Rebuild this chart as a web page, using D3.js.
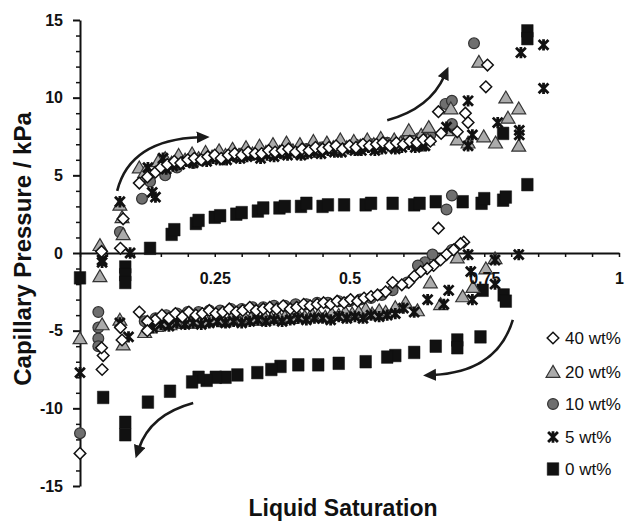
<!DOCTYPE html>
<html><head><meta charset="utf-8">
<script src="https://cdn.jsdelivr.net/npm/d3@7"></script>
<style>
body{margin:0;background:#fff;}
svg{display:block;font-family:"Liberation Sans",Arial,sans-serif;}
</style></head>
<body>
<svg id="chart" width="635" height="521"></svg>
<script>
// ---- data (liquid saturation, capillary pressure kPa) ----
const seriesNames = ["40 wt%","20 wt%","10 wt%","5 wt%","0 wt%"];
const yTickLabels = [15,10,5,0,-5,-10,-15];
const xTickLabels = [0.25,0.5,0.75,1];

// 40 wt% (diamonds) - drainage (d) and imbibition (i)
const s40_dx = [0.04,0.075,0.08,0.11,0.125,0.14,
  0.150,0.162,0.175,0.187,0.200,0.212,0.225,0.237,0.250,0.262,0.275,0.287,0.300,0.312,0.325,0.337,0.350,0.362,0.375,0.387,0.400,0.412,0.425,0.437,0.450,0.462,0.475,0.487,0.500,0.512,0.525,0.537,0.550,0.562,0.575,0.587,0.600,0.612,0.625,0.637,0.650,
  0.67,0.70,0.665,0.715,0.72,0.753,0.756];
const s40_dy = [0.1,0.3,2.2,4.5,4.9,5.2,
  5.5,5.7,5.9,5.8,6.0,6.1,6.0,6.2,6.3,6.1,6.3,6.4,6.3,6.5,6.4,6.4,6.6,6.5,6.6,6.7,6.5,6.7,6.6,6.8,6.7,6.8,6.9,6.7,6.9,6.8,7.0,6.9,7.0,7.1,6.9,7.1,7.0,7.2,7.1,7.3,7.2,
  7.7,7.8,9.1,9.0,8.4,10.7,12.1];
const s40_ix = [0.665,0.712,0.706,0.693,0.68,0.669,0.656,0.644,0.632,0.62,0.61,0.597,0.58,0.567,
  0.14,0.152,0.165,0.177,0.19,0.202,0.215,0.227,0.24,0.252,0.265,0.277,0.29,0.302,0.315,0.327,0.34,0.352,0.365,0.377,0.39,0.402,0.415,0.427,0.44,0.452,0.465,0.477,0.49,0.502,0.515,0.527,0.54,0.552,
  0.125,0.11,0.125,0.078,0.075,0.043,0.041,0.04,0.0];
const s40_iy = [1.6,0.7,0.6,0.2,-0.1,-0.45,-0.8,-1.0,-1.2,-1.5,-1.9,-2.05,-1.9,-2.5,
  -4.3,-4.0,-4.2,-3.9,-4.1,-3.8,-4.0,-3.9,-3.7,-3.9,-3.8,-3.6,-3.8,-3.7,-3.5,-3.7,-3.6,-3.5,-3.6,-3.4,-3.6,-3.5,-3.3,-3.4,-3.3,-3.2,-3.3,-3.1,-3.2,-3.0,-3.1,-2.9,-2.8,-2.7,
  -4.4,-3.8,-5.0,-5.6,-4.8,-6.6,-7.5,-6.1,-12.9];

// 20 wt% (triangles)
const s20_dx = [0.037,0.074,0.078,0.08,0.11,0.12,
  0.145,0.158,0.17,0.183,0.195,0.208,0.22,0.233,0.245,0.258,0.27,0.283,0.295,0.308,0.32,0.333,0.345,0.358,0.37,0.383,0.395,0.408,0.42,0.433,0.445,0.458,0.47,0.483,0.495,0.508,0.52,0.533,0.545,0.558,0.57,0.583,0.595,0.608,0.62,0.633,0.645,
  0.61,0.647,0.68,0.70,0.72,0.749,0.771,0.688,0.74,0.79,0.794,0.814,0.814];
const s20_dy = [0.5,3.1,2.3,1.2,5.5,5.2,
  5.9,6.1,5.8,6.3,6.0,6.4,6.1,6.5,6.2,6.6,6.3,6.7,6.3,6.8,6.4,6.9,6.5,7.0,6.5,7.1,6.6,7.0,6.6,7.2,6.7,7.1,6.8,7.3,6.8,7.2,6.9,7.3,7.0,7.4,7.0,7.3,7.1,7.5,7.2,7.6,7.3,
  7.9,8.1,7.9,7.3,7.1,7.5,7.1,9.3,12.3,10.0,8.7,9.3,6.9];
const s20_ix = [0.70,0.77,0.753,0.729,0.71,0.669,0.65,0.626,0.604,0.585,0.567,
  0.555,0.542,0.53,0.517,0.505,0.492,0.48,0.467,0.455,0.442,0.43,0.417,0.405,0.392,0.38,0.367,0.355,0.342,0.33,0.317,0.305,0.292,0.28,0.267,0.255,0.242,0.23,0.217,0.205,0.192,0.18,0.167,0.155,0.142,0.13,
  0.12,0.074,0.08,0.041,0.037,0.0];
const s20_iy = [-0.3,-0.35,-1.0,-2.2,-2.8,-3.3,-1.9,-3.7,-3.2,-3.5,-3.8,
  -3.7,-3.9,-3.6,-3.8,-3.9,-3.8,-4.0,-3.9,-4.1,-4.0,-3.9,-4.1,-4.0,-4.2,-4.1,-4.0,-4.2,-4.1,-4.3,-4.2,-4.1,-4.3,-4.2,-4.4,-4.3,-4.2,-4.4,-4.3,-4.5,-4.4,-4.5,-4.6,-4.5,-4.7,-4.8,
  -5.1,-4.3,-5.9,-4.6,-1.5,-5.5];

// 10 wt% (circles)
const s10_dx = [0.074,0.115,0.13,0.158,0.18,0.21,0.24,0.27,0.30,0.33,0.36,0.39,0.42,0.45,0.48,0.51,0.54,0.57,0.60,0.63,0.65,0.678,0.69,0.69,0.731];
const s10_dy = [1.35,3.5,4.6,5.0,5.5,5.8,6.1,6.2,6.4,6.5,6.5,6.6,6.7,6.8,6.9,7.0,7.0,7.1,7.2,7.4,7.6,9.6,9.8,8.3,13.5];
const s10_ix = [0.69,0.68,0.69,0.654,0.64,0.627,0.607,0.58,0.56,
  0.54,0.52,0.50,0.48,0.46,0.44,0.42,0.40,0.38,0.36,0.34,0.32,0.30,0.28,0.26,0.24,0.22,0.20,0.18,0.16,0.14,0.12,
  0.034,0.034,0.034,0.034,0.0];
const s10_iy = [3.7,2.8,0.2,-0.1,-0.6,-0.8,-1.9,-2.4,-2.7,
  -2.9,-3.0,-3.1,-3.1,-3.2,-3.2,-3.3,-3.3,-3.4,-3.4,-3.5,-3.5,-3.6,-3.6,-3.7,-3.7,-3.8,-3.8,-3.9,-4.0,-4.2,-4.4,
  -3.8,-4.8,-5.5,-6.0,-11.6];

// 5 wt% (asterisks)
const s5_dx = [0.041,0.093,0.074,0.126,0.134,0.14,0.154,
  0.16,0.172,0.185,0.197,0.21,0.222,0.235,0.247,0.26,0.272,0.285,0.297,0.31,0.322,0.335,0.347,0.36,0.372,0.385,0.397,0.41,0.422,0.435,0.447,0.46,0.472,0.485,0.497,0.51,0.522,0.535,0.547,0.56,0.572,0.585,0.597,0.61,0.622,0.635,
  0.64,0.68,0.72,0.728,0.72,0.775,0.815,0.815,0.818,0.86,0.86];
const s5_dy = [-0.45,0.0,3.3,5.5,3.9,3.6,6.1,
  5.4,5.6,5.7,5.9,5.8,6.0,5.9,6.1,6.0,6.0,6.2,6.1,6.2,6.3,6.1,6.3,6.2,6.4,6.3,6.5,6.3,6.4,6.5,6.4,6.6,6.5,6.5,6.7,6.6,6.6,6.8,6.6,6.7,6.9,6.7,6.8,7.0,6.8,6.9,
  6.9,8.1,6.9,7.6,9.8,8.4,7.9,7.6,12.9,13.4,10.6];
const s5_ix = [0.814,0.77,0.77,0.72,0.725,0.728,0.684,0.675,0.645,0.62,0.60,0.585,
  0.57,0.555,0.54,0.525,0.51,0.495,0.48,0.465,0.45,0.435,0.42,0.405,0.39,0.375,0.36,0.345,0.33,0.315,0.30,0.285,0.27,0.255,0.24,0.225,0.21,0.195,0.18,0.165,0.15,0.135,
  0.09,0.074,0.041,0.0];
const s5_iy = [-0.1,-0.45,-2.0,-0.1,-1.2,-3.0,-2.4,-3.3,-3.0,-3.8,-3.55,-3.9,
  -4.0,-4.1,-4.0,-4.2,-4.1,-4.2,-4.1,-4.3,-4.2,-4.2,-4.3,-4.2,-4.3,-4.4,-4.3,-4.4,-4.3,-4.4,-4.5,-4.4,-4.5,-4.4,-4.5,-4.6,-4.5,-4.6,-4.5,-4.7,-4.6,-4.8,
  -5.4,-4.5,-0.6,-7.7];

// 0 wt% (squares)
const s0_dx = [0.13,0.17,0.175,0.215,0.22,0.25,0.26,0.29,0.30,0.33,0.34,0.37,0.38,0.41,0.42,0.45,0.46,0.49,0.53,0.54,0.58,0.62,0.63,0.66,0.71,0.745,0.75,0.785,0.79,0.83,0.785,0.83,0.83];
const s0_dy = [0.3,1.2,1.5,1.9,2.1,2.3,2.4,2.5,2.6,2.7,2.9,2.9,3.0,3.0,3.2,3.0,3.1,3.1,3.1,3.2,3.2,3.1,3.2,3.3,3.3,3.2,3.5,3.4,3.6,4.4,7.7,14.3,13.8];
const s0_ix = [0.786,0.79,0.747,0.743,0.70,0.70,0.66,0.62,0.585,0.57,0.53,0.48,0.442,0.405,0.372,0.355,0.329,0.292,0.27,0.252,0.235,0.22,0.208,0.167,0.126,0.084,0.084,0.043,0.084,0.084,0.084,0.0];
const s0_iy = [-2.7,-3.1,-2.4,-5.4,-5.6,-6.1,-6.0,-6.4,-6.6,-6.7,-7.0,-7.1,-7.2,-7.2,-7.3,-7.5,-7.7,-7.85,-8.0,-8.0,-8.2,-8.0,-8.3,-8.9,-9.6,-10.9,-11.7,-9.3,-0.9,-1.4,-1.9,-1.6];

// annotation arrows in data units: start, control, end
const arrowPaths = [
  [[0.069,4.0],[0.093,7.3],[0.222,7.45]],
  [[0.57,8.55],[0.649,9.3],[0.676,11.4]],
  [[0.803,-4.3],[0.774,-7.65],[0.655,-7.85]],
  [[0.21,-9.65],[0.13,-10.4],[0.109,-12.6]]
];

// ---- drawing ----
const svg = d3.select("#chart");
const x = d3.scaleLinear().domain([0,1]).range([80,619]);
const y = d3.scaleLinear().domain([-15,15]).range([486,20]);

const shapes = {
  diamond: (s)=>`M0,${-s}L${s},0L0,${s}L${-s},0Z`,
  triangle: (s)=>`M0,${-s}L${s*1.05},${s*0.8}L${-s*1.05},${s*0.8}Z`,
  square: (s)=>`M${-s*0.92},${-s}H${s*0.92}V${s}H${-s*0.92}Z`,
  star: (s)=>`M${-s},${-s}L${s},${s}M${s},${-s}L${-s},${s}M0,${-s*1.15}V${s*1.15}`
};
const styles = {
  "40 wt%": {shape:"diamond", size:5.8, fill:"#fff", stroke:"#111", sw:1.5},
  "20 wt%": {shape:"triangle", size:6.6, fill:"#ababab", stroke:"#333", sw:1.2},
  "10 wt%": {shape:"circle", size:5.4, fill:"#6f6f6f", stroke:"#333", sw:1.2},
  "5 wt%":  {shape:"star", size:4.9, fill:"none", stroke:"#111", sw:2.8},
  "0 wt%":  {shape:"square", size:6.3, fill:"#111", stroke:"#111", sw:0.5}
};

function pts(xs, ys){ return xs.map((v,i)=>({x:v, y:ys[i]})); }
const seriesData = {
  "40 wt%": pts(s40_dx,s40_dy).concat(pts(s40_ix,s40_iy)),
  "20 wt%": pts(s20_dx,s20_dy).concat(pts(s20_ix,s20_iy)),
  "10 wt%": pts(s10_dx,s10_dy).concat(pts(s10_ix,s10_iy)),
  "5 wt%":  pts(s5_dx,s5_dy).concat(pts(s5_ix,s5_iy)),
  "0 wt%":  pts(s0_dx,s0_dy).concat(pts(s0_ix,s0_iy))
};

function drawMarker(g, st){
  if(st.shape==="circle"){
    g.append("circle").attr("r",st.size).attr("fill",st.fill).attr("stroke",st.stroke).attr("stroke-width",st.sw);
  } else {
    g.append("path").attr("d",shapes[st.shape](st.size)).attr("fill",st.fill)
      .attr("stroke",st.stroke).attr("stroke-width",st.sw).attr("stroke-linejoin","miter");
  }
}

// axes
const gx = svg.append("g").attr("transform",`translate(0,${y(0)})`);
gx.call(d3.axisBottom(x).tickValues(d3.range(0,21).map(i=>i/20)).tickSize(4).tickSizeOuter(0).tickFormat(""));
gx.select(".domain").attr("stroke","#111").attr("stroke-width",2);
gx.selectAll(".tick line").attr("stroke","#111").attr("stroke-width",1.5);

const gy = svg.append("g").attr("transform",`translate(${x(0)},0)`);
gy.call(d3.axisLeft(y).tickValues(d3.range(-15,16).filter(v=>v%5!==0)).tickSize(4).tickSizeOuter(0).tickFormat(""));
gy.call(g=>g.select(".domain").remove());
gy.selectAll(".tick line").attr("stroke","#111").attr("stroke-width",1.5);
const gy2 = svg.append("g").attr("transform",`translate(${x(0)},0)`);
gy2.call(d3.axisLeft(y).tickValues(yTickLabels).tickSize(7).tickSizeOuter(0).tickPadding(10).tickFormat(d=>String(d)));
gy2.select(".domain").attr("stroke","#111").attr("stroke-width",2);
gy2.selectAll(".tick line").attr("stroke","#111").attr("stroke-width",2);
gy2.selectAll(".tick text").attr("font-size",16).attr("font-weight","bold").attr("fill","#111")
   .attr("font-family","'Liberation Sans',Arial,sans-serif");

// series (draw order)
["0 wt%","10 wt%","20 wt%","5 wt%","40 wt%"].forEach(name=>{
  const st = styles[name];
  const g = svg.append("g");
  seriesData[name].forEach(p=>{
    const m = g.append("g").attr("transform",`translate(${x(p.x)},${y(p.y)})`);
    drawMarker(m, st);
  });
});

// x tick labels
const gxl = svg.append("g").attr("transform",`translate(0,${y(0)})`);
gxl.call(d3.axisBottom(x).tickValues(xTickLabels).tickSize(0).tickPadding(20).tickFormat(d=>String(d)));
gxl.select(".domain").remove();
gxl.selectAll(".tick text").attr("font-size",16).attr("font-weight","bold").attr("fill","#111")
   .attr("font-family","'Liberation Sans',Arial,sans-serif");

// arrows
const defs = svg.append("defs");
defs.append("marker").attr("id","ah").attr("markerUnits","userSpaceOnUse")
  .attr("markerWidth",14).attr("markerHeight",14).attr("refX",3).attr("refY",6)
  .attr("orient","auto").append("path").attr("d","M0,0L13,6L0,12Z").attr("fill","#1a1a1a");
arrowPaths.forEach(a=>{
  const [s,c,e] = a;
  svg.append("path")
    .attr("d",`M${x(s[0])},${y(s[1])}Q${x(c[0])},${y(c[1])} ${x(e[0])},${y(e[1])}`)
    .attr("fill","none").attr("stroke","#1a1a1a").attr("stroke-width",2.6)
    .attr("marker-end","url(#ah)");
});

// legend
const legendY = [338,372,404,437,469];
seriesNames.forEach((name,i)=>{
  const g = svg.append("g").attr("transform",`translate(553,${legendY[i]})`);
  drawMarker(g, styles[name]);
  svg.append("text").attr("x",565).attr("y",legendY[i]+6).attr("font-size",17)
    .attr("fill","#111").text(name);
});

// titles
svg.append("text").attr("x",343).attr("y",516).attr("text-anchor","middle")
  .attr("font-size",23).attr("font-weight","bold").attr("fill","#111").text("Liquid Saturation");
svg.append("text").attr("transform","translate(31,249) rotate(-90)").attr("text-anchor","middle")
  .attr("font-size",24).attr("font-weight","bold").attr("fill","#111").text("Capillary Pressure / kPa");
</script>
</body></html>
